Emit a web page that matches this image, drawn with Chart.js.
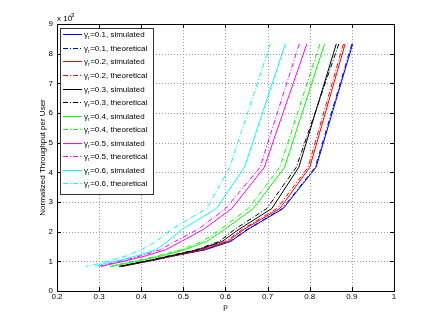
<!DOCTYPE html>
<html>
<head>
<meta charset="utf-8">
<script src="https://cdn.jsdelivr.net/npm/chart.js@4.4.1/dist/chart.umd.min.js"></script>
<style>
  html, body { margin: 0; padding: 0; background: #fff; }
  #wrap { width: 436px; height: 327px; }
</style>
</head>
<body>
<div id="wrap"><canvas id="chart-throughput"></canvas></div>
<script>
// throughput levels (x 10^-3), shared by every curve
let throughput = [8.33, 4.17, 2.78, 2.08, 1.67, 1.39, 1.19, 1.04, 0.93, 0.83];

// p for each gamma_r, simulated / theoretical
let pSim01 = [0.902, 0.815, 0.737, 0.654, 0.612, 0.552, 0.480, 0.430, 0.390, 0.355];
let pThe01 = [0.900, 0.813, 0.735, 0.652, 0.610, 0.550, 0.478, 0.428, 0.388, 0.353];
let pSim02 = [0.884, 0.800, 0.729, 0.644, 0.605, 0.545, 0.478, 0.428, 0.388, 0.352];
let pThe02 = [0.880, 0.796, 0.722, 0.640, 0.600, 0.540, 0.474, 0.425, 0.385, 0.350];
let pSim03 = [0.863, 0.774, 0.710, 0.632, 0.592, 0.535, 0.472, 0.424, 0.385, 0.350];
let pThe03 = [0.869, 0.768, 0.698, 0.622, 0.585, 0.530, 0.467, 0.420, 0.382, 0.347];
let pSim04 = [0.835, 0.740, 0.666, 0.598, 0.555, 0.503, 0.450, 0.403, 0.365, 0.330];
let pThe04 = [0.824, 0.729, 0.654, 0.588, 0.545, 0.493, 0.440, 0.395, 0.357, 0.325];
let pSim05 = [0.793, 0.692, 0.615, 0.548, 0.495, 0.458, 0.412, 0.370, 0.335, 0.305];
let pThe05 = [0.775, 0.682, 0.600, 0.535, 0.480, 0.445, 0.400, 0.360, 0.328, 0.300];
let pSim06 = [0.742, 0.645, 0.578, 0.497, 0.462, 0.435, 0.390, 0.350, 0.315, 0.290];
let pThe06 = [0.706, 0.610, 0.555, 0.472, 0.435, 0.400, 0.365, 0.330, 0.300, 0.268];

let gammaValues = ['0.1', '0.2', '0.3', '0.4', '0.5', '0.6'];
let colorsGamma = ['#0000ff', '#ff0000', '#000000', '#00ff00', '#ff00ff', '#00ffff'];
let xTickLabels = ['0.2', '0.3', '0.4', '0.5', '0.6', '0.7', '0.8', '0.9', '1'];
let yTickLabels = ['0', '1', '2', '3', '4', '5', '6', '7', '8', '9'];

let simSeries = [pSim01, pSim02, pSim03, pSim04, pSim05, pSim06];
let theSeries = [pThe01, pThe02, pThe03, pThe04, pThe05, pThe06];
let dashDot = [5, 2, 1, 2];

let datasets = [];
gammaValues.forEach((g, i) => {
    datasets.push({
        label: 'γr=' + g + ', simulated',
        data: simSeries[i].map((p, k) => ({ x: p, y: throughput[k] })),
        borderColor: colorsGamma[i],
        borderDash: []
    });
    datasets.push({
        label: 'γr=' + g + ', theoretical',
        data: theSeries[i].map((p, k) => ({ x: p, y: throughput[k] })),
        borderColor: colorsGamma[i],
        borderDash: dashDot
    });
});
datasets.forEach((d, i) => {
    d.showLine = true;
    d.pointRadius = 0;
    d.borderWidth = 1;
    d.tension = 0;
    d.order = datasets.length - i;
});

// dotted grid, drawn under the curves
let dottedGrid = {
    id: 'dottedGrid',
    beforeDatasetsDraw(chart) {
        let c = chart.ctx;
        let a = chart.chartArea;
        let xs = chart.scales.x, ys = chart.scales.y;
        c.save();
        c.strokeStyle = '#9a9a9a';
        c.lineWidth = 1;
        c.setLineDash([1, 2]);
        c.beginPath();
        xs.ticks.forEach(t => {
            let px = Math.round(xs.getPixelForValue(t.value)) + 0.5;
            if (px <= a.left + 1 || px >= a.right - 1) return;
            c.moveTo(px, a.top); c.lineTo(px, a.bottom);
        });
        ys.ticks.forEach(t => {
            let py = Math.round(ys.getPixelForValue(t.value)) + 0.5;
            if (py <= a.top + 1 || py >= a.bottom - 1) return;
            c.moveTo(a.left, py); c.lineTo(a.right, py);
        });
        c.stroke();
        c.restore();
    }
};

// matlab style box, inward ticks, exponent and legend
let matlabFrame = {
    id: 'matlabFrame',
    afterDraw(chart) {
        let c = chart.ctx;
        let a = chart.chartArea;
        let xs = chart.scales.x, ys = chart.scales.y;
        c.save();
        c.strokeStyle = '#000';
        c.lineWidth = 1;
        c.beginPath();
        xs.ticks.forEach(t => {
            let px = Math.round(xs.getPixelForValue(t.value)) + 0.5;
            c.moveTo(px, a.bottom); c.lineTo(px, a.bottom - 4);
            c.moveTo(px, a.top); c.lineTo(px, a.top + 4);
        });
        ys.ticks.forEach(t => {
            let py = Math.round(ys.getPixelForValue(t.value)) + 0.5;
            c.moveTo(a.left, py); c.lineTo(a.left + 4, py);
            c.moveTo(a.right, py); c.lineTo(a.right - 4, py);
        });
        c.stroke();
        c.strokeRect(Math.round(a.left) + 0.5, Math.round(a.top) + 0.5,
            Math.round(a.right - a.left), Math.round(a.bottom - a.top));

        // x 10^-3
        c.fillStyle = '#000';
        c.textBaseline = 'alphabetic';
        c.textAlign = 'left';
        c.font = '8px "Liberation Sans", Arial, sans-serif';
        c.fillText('x 10', a.left, a.top - 3);
        c.font = '6px "Liberation Sans", Arial, sans-serif';
        c.fillText('-3', a.left + 12, a.top - 7);

        // legend
        let lx = 60, ly = 28, lw = 93, lh = 166;
        c.fillStyle = '#fff';
        c.fillRect(lx, ly, lw, lh);
        c.strokeStyle = '#333';
        c.strokeRect(lx + 0.5, ly + 0.5, lw, lh);
        chart.data.datasets.forEach((d, i) => {
            let yy = Math.round(ly + 6.3 + i * 13.55) + 0.5;
            c.strokeStyle = d.borderColor;
            c.setLineDash(d.borderDash);
            c.beginPath();
            c.moveTo(63, yy); c.lineTo(82, yy);
            c.stroke();
            c.setLineDash([]);
            let rest = d.label.slice(2);
            c.fillStyle = '#000';
            c.textBaseline = 'middle';
            c.font = '8px "Liberation Sans", Arial, sans-serif';
            c.fillText('γ', 84, yy);
            let gw = c.measureText('γ').width;
            c.font = '5px "Liberation Sans", Arial, sans-serif';
            c.fillText('r', 84 + gw, yy + 3);
            let rw = c.measureText('r').width;
            c.font = '8px "Liberation Sans", Arial, sans-serif';
            c.fillText(rest, 84 + gw + rw + 0.5, yy);
        });
        c.restore();
    }
};

Chart.defaults.font.family = '"Liberation Sans", Arial, sans-serif';
Chart.defaults.font.size = 8;
Chart.defaults.color = '#000';

let ctxThroughput = document.getElementById('chart-throughput').getContext('2d');

let chartThroughput = new Chart(ctxThroughput, {
    type: 'scatter',
    data: { datasets: datasets },
    options: {
        responsive: true,
        maintainAspectRatio: false,
        animation: false,
        devicePixelRatio: 1,
        layout: { padding: { left: 0, top: 24, right: 42, bottom: 0 } },
        plugins: {
            legend: { display: false },
            tooltip: { enabled: false }
        },
        scales: {
            x: {
                type: 'linear',
                min: 0.2,
                max: 1,
                afterFit(s) { s.height = 36; },
                ticks: {
                    stepSize: 0.1,
                    padding: 1,
                    maxRotation: 0,
                    autoSkip: false,
                    callback: (v, i) => xTickLabels[i]
                },
                grid: { display: false, drawTicks: false },
                border: { display: false },
                title: {
                    display: true,
                    text: 'p',
                    font: { size: 8 },
                    padding: { top: 0, bottom: 15 }
                }
            },
            y: {
                type: 'linear',
                min: 0,
                max: 9,
                afterFit(s) { s.width = 57; },
                ticks: {
                    stepSize: 1,
                    padding: 4,
                    autoSkip: false,
                    callback: (v, i) => yTickLabels[i]
                },
                grid: { display: false, drawTicks: false },
                border: { display: false },
                title: {
                    display: true,
                    text: 'Normalized Throughput per User',
                    font: { size: 8 },
                    padding: { top: 38, bottom: 0 }
                }
            }
        }
    },
    plugins: [dottedGrid, matlabFrame]
});
</script>
</body>
</html>
